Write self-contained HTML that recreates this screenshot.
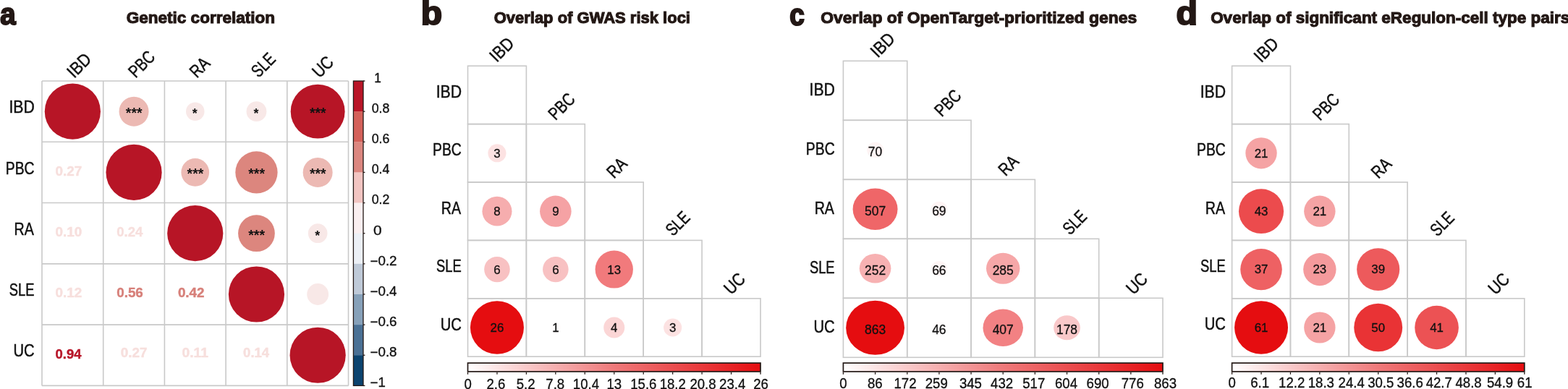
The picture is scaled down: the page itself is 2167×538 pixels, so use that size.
<!DOCTYPE html>
<html><head><meta charset="utf-8"><title>Figure</title>
<style>
html,body{margin:0;padding:0;background:#fff;}
body{width:2167px;height:538px;overflow:hidden;}
svg{display:block;font-family:"Liberation Sans",Arial,sans-serif;}
</style></head><body>
<svg width="2167" height="538" viewBox="0 0 2167 538">
<rect width="2167" height="538" fill="#fff"/>
<text x="0.27" y="33.69" font-size="41.62" textLength="21.38" lengthAdjust="spacingAndGlyphs" font-weight="bold" fill="#231815" stroke="#231815" stroke-width="2.2">a</text>
<text x="581.73" y="33.86" font-size="45.48" textLength="29.34" lengthAdjust="spacingAndGlyphs" font-weight="bold" fill="#231815" stroke="#231815" stroke-width="2.2">b</text>
<text x="1091.16" y="34.49" font-size="41.98" textLength="20.52" lengthAdjust="spacingAndGlyphs" font-weight="bold" fill="#231815" stroke="#231815" stroke-width="2.2">c</text>
<text x="1625.42" y="33.76" font-size="45.34" textLength="29.46" lengthAdjust="spacingAndGlyphs" font-weight="bold" fill="#231815" stroke="#231815" stroke-width="2.2">d</text>
<text x="174.63" y="32.35" font-size="22.67" textLength="205.52" lengthAdjust="spacingAndGlyphs" font-weight="bold" fill="#231815" stroke="#231815" stroke-width="1.1">Genetic correlation</text>
<text x="682.65" y="32.35" font-size="22.53" textLength="271.35" lengthAdjust="spacingAndGlyphs" font-weight="bold" fill="#231815" stroke="#231815" stroke-width="1.1">Overlap of GWAS risk loci</text>
<text x="1134.32" y="32.35" font-size="22.53" textLength="436.87" lengthAdjust="spacingAndGlyphs" font-weight="bold" fill="#231815" stroke="#231815" stroke-width="1.1">Overlap of OpenTarget-prioritized genes</text>
<text x="1673.13" y="32.25" font-size="22.53" textLength="496.25" lengthAdjust="spacingAndGlyphs" font-weight="bold" fill="#231815" stroke="#231815" stroke-width="1.1">Overlap of significant eRegulon-cell type pairs</text>
<line x1="58" y1="112" x2="481.5" y2="112" stroke="#c9c9c9" stroke-width="1.6"/>
<line x1="58" y1="112" x2="58" y2="533.4" stroke="#c9c9c9" stroke-width="1.6"/>
<line x1="58" y1="196.28" x2="481.5" y2="196.28" stroke="#c9c9c9" stroke-width="1.6"/>
<line x1="142.7" y1="112" x2="142.7" y2="533.4" stroke="#c9c9c9" stroke-width="1.6"/>
<line x1="58" y1="280.56" x2="481.5" y2="280.56" stroke="#c9c9c9" stroke-width="1.6"/>
<line x1="227.4" y1="112" x2="227.4" y2="533.4" stroke="#c9c9c9" stroke-width="1.6"/>
<line x1="58" y1="364.84" x2="481.5" y2="364.84" stroke="#c9c9c9" stroke-width="1.6"/>
<line x1="312.1" y1="112" x2="312.1" y2="533.4" stroke="#c9c9c9" stroke-width="1.6"/>
<line x1="58" y1="449.12" x2="481.5" y2="449.12" stroke="#c9c9c9" stroke-width="1.6"/>
<line x1="396.8" y1="112" x2="396.8" y2="533.4" stroke="#c9c9c9" stroke-width="1.6"/>
<line x1="58" y1="533.4" x2="481.5" y2="533.4" stroke="#c9c9c9" stroke-width="1.6"/>
<line x1="481.5" y1="112" x2="481.5" y2="533.4" stroke="#c9c9c9" stroke-width="1.6"/>
<circle cx="100.35" cy="154.14" r="38.6" fill="#b71526"/>
<circle cx="185.05" cy="154.14" r="20.5" fill="#ecb9b3"/>
<text x="173.89" y="163.05" font-size="19.35" textLength="22.68" lengthAdjust="spacingAndGlyphs" font-weight="bold" fill="#111">***</text>
<circle cx="269.75" cy="154.14" r="12.75" fill="#f8e8e7"/>
<text x="265.8" y="162.98" font-size="18.81" textLength="6.97" lengthAdjust="spacingAndGlyphs" font-weight="bold" fill="#111">*</text>
<circle cx="354.45" cy="154.14" r="13.9" fill="#f8e8e7"/>
<text x="350.5" y="162.98" font-size="18.81" textLength="6.97" lengthAdjust="spacingAndGlyphs" font-weight="bold" fill="#111">*</text>
<circle cx="439.15" cy="154.14" r="37.46" fill="#b71526"/>
<text x="427.99" y="163.05" font-size="19.35" textLength="22.68" lengthAdjust="spacingAndGlyphs" font-weight="bold" fill="#111">***</text>
<text x="76.5" y="242.9" font-size="17.66" textLength="36.78" lengthAdjust="spacingAndGlyphs" font-weight="bold" fill="#f7dfdd" stroke="#f7dfdd" stroke-width="0.4">0.27</text>
<circle cx="185.05" cy="238.42" r="38.6" fill="#b71526"/>
<circle cx="269.75" cy="238.42" r="19.37" fill="#ecb9b3"/>
<text x="258.59" y="247.33" font-size="19.35" textLength="22.68" lengthAdjust="spacingAndGlyphs" font-weight="bold" fill="#111">***</text>
<circle cx="354.45" cy="238.42" r="29.15" fill="#dc867e"/>
<text x="343.29" y="247.33" font-size="19.35" textLength="22.68" lengthAdjust="spacingAndGlyphs" font-weight="bold" fill="#111">***</text>
<circle cx="439.15" cy="238.42" r="20.5" fill="#ecb9b3"/>
<text x="427.99" y="247.33" font-size="19.35" textLength="22.68" lengthAdjust="spacingAndGlyphs" font-weight="bold" fill="#111">***</text>
<text x="76.5" y="327.18" font-size="17.66" textLength="36.72" lengthAdjust="spacingAndGlyphs" font-weight="bold" fill="#f7dfdd" stroke="#f7dfdd" stroke-width="0.4">0.10</text>
<text x="161.22" y="327.18" font-size="17.66" textLength="36.03" lengthAdjust="spacingAndGlyphs" font-weight="bold" fill="#f7dfdd" stroke="#f7dfdd" stroke-width="0.4">0.24</text>
<circle cx="269.75" cy="322.7" r="38.6" fill="#b71526"/>
<circle cx="354.45" cy="322.7" r="25.36" fill="#dc867e"/>
<text x="343.29" y="331.61" font-size="19.35" textLength="22.68" lengthAdjust="spacingAndGlyphs" font-weight="bold" fill="#111">***</text>
<circle cx="439.15" cy="322.7" r="13.34" fill="#f8e8e7"/>
<text x="435.2" y="331.54" font-size="18.81" textLength="6.97" lengthAdjust="spacingAndGlyphs" font-weight="bold" fill="#111">*</text>
<text x="76.5" y="411.46" font-size="17.66" textLength="36.7" lengthAdjust="spacingAndGlyphs" font-weight="bold" fill="#f7dfdd" stroke="#f7dfdd" stroke-width="0.4">0.12</text>
<text x="161.21" y="411.46" font-size="17.66" textLength="36.62" lengthAdjust="spacingAndGlyphs" font-weight="bold" fill="#d7807a" stroke="#d7807a" stroke-width="0.4">0.56</text>
<text x="245.9" y="411.46" font-size="17.66" textLength="36.7" lengthAdjust="spacingAndGlyphs" font-weight="bold" fill="#d7807a" stroke="#d7807a" stroke-width="0.4">0.42</text>
<circle cx="354.45" cy="406.98" r="38.6" fill="#b71526"/>
<circle cx="439.15" cy="406.98" r="14.96" fill="#f8e8e7"/>
<text x="76.52" y="495.74" font-size="17.66" textLength="36.03" lengthAdjust="spacingAndGlyphs" font-weight="bold" fill="#b8172a" stroke="#b8172a" stroke-width="0.4">0.94</text>
<text x="166.7" y="494.04" font-size="17.66" textLength="36.78" lengthAdjust="spacingAndGlyphs" font-weight="bold" fill="#f7dfdd" stroke="#f7dfdd" stroke-width="0.4">0.27</text>
<text x="251.41" y="494.04" font-size="17.66" textLength="36.46" lengthAdjust="spacingAndGlyphs" font-weight="bold" fill="#f7dfdd" stroke="#f7dfdd" stroke-width="0.4">0.11</text>
<text x="336.12" y="494.04" font-size="17.66" textLength="36.03" lengthAdjust="spacingAndGlyphs" font-weight="bold" fill="#f7dfdd" stroke="#f7dfdd" stroke-width="0.4">0.14</text>
<circle cx="439.15" cy="491.26" r="38.6" fill="#b71526"/>
<text x="12.39" y="156.29" font-size="23.84" textLength="35.37" lengthAdjust="spacingAndGlyphs" fill="#111" stroke="#111" stroke-width="0.5">IBD</text>
<text x="101.86" y="107.6" font-size="24.56" textLength="35.92" lengthAdjust="spacingAndGlyphs" fill="#111" stroke="#111" stroke-width="0.5" transform="rotate(-45 103.85 107.6)">IBD</text>
<text x="7.77" y="240.57" font-size="23.84" textLength="39.72" lengthAdjust="spacingAndGlyphs" fill="#111" stroke="#111" stroke-width="0.5">PBC</text>
<text x="186.94" y="107.6" font-size="24.56" textLength="40.25" lengthAdjust="spacingAndGlyphs" fill="#111" stroke="#111" stroke-width="0.5" transform="rotate(-45 188.55 107.6)">PBC</text>
<text x="19.54" y="324.85" font-size="23.84" textLength="27.25" lengthAdjust="spacingAndGlyphs" fill="#111" stroke="#111" stroke-width="0.5">RA</text>
<text x="271.61" y="107.6" font-size="24.56" textLength="27.78" lengthAdjust="spacingAndGlyphs" fill="#111" stroke="#111" stroke-width="0.5" transform="rotate(-45 273.25 107.6)">RA</text>
<text x="12.82" y="409.13" font-size="23.84" textLength="34.72" lengthAdjust="spacingAndGlyphs" fill="#111" stroke="#111" stroke-width="0.5">SLE</text>
<text x="357.1" y="107.6" font-size="24.56" textLength="35.25" lengthAdjust="spacingAndGlyphs" fill="#111" stroke="#111" stroke-width="0.5" transform="rotate(-45 357.95 107.6)">SLE</text>
<text x="18.39" y="493.41" font-size="23.84" textLength="29.12" lengthAdjust="spacingAndGlyphs" fill="#111" stroke="#111" stroke-width="0.5">UC</text>
<text x="441.07" y="107.6" font-size="24.56" textLength="29.67" lengthAdjust="spacingAndGlyphs" fill="#111" stroke="#111" stroke-width="0.5" transform="rotate(-45 442.65 107.6)">UC</text>
<rect x="488.4" y="112" width="13.6" height="42.44" fill="#b91628"/>
<rect x="488.4" y="154.14" width="13.6" height="42.44" fill="#d4615a"/>
<rect x="488.4" y="196.28" width="13.6" height="42.44" fill="#dc8780"/>
<rect x="488.4" y="238.42" width="13.6" height="42.44" fill="#f2c5c2"/>
<rect x="488.4" y="280.56" width="13.6" height="42.44" fill="#faeff0"/>
<rect x="488.4" y="322.7" width="13.6" height="42.44" fill="#ecf0f6"/>
<rect x="488.4" y="364.84" width="13.6" height="42.44" fill="#bfcad8"/>
<rect x="488.4" y="406.98" width="13.6" height="42.44" fill="#87a1b9"/>
<rect x="488.4" y="449.12" width="13.6" height="42.44" fill="#4b7195"/>
<rect x="488.4" y="491.26" width="13.6" height="42.44" fill="#0c446f"/>
<rect x="488.4" y="112" width="13.6" height="421.4" fill="none" stroke="#231815" stroke-width="1.3"/>
<line x1="502" y1="112" x2="504.4" y2="112" stroke="#231815" stroke-width="1.3"/>
<text x="517.26" y="113.83" font-size="17.51" textLength="9.57" lengthAdjust="spacingAndGlyphs" fill="#111" stroke="#111" stroke-width="0.35">1</text>
<line x1="502" y1="154.14" x2="504.4" y2="154.14" stroke="#231815" stroke-width="1.3"/>
<text x="513.68" y="155.96" font-size="17.51" textLength="24.68" lengthAdjust="spacingAndGlyphs" fill="#111" stroke="#111" stroke-width="0.35">0.8</text>
<line x1="502" y1="196.28" x2="504.4" y2="196.28" stroke="#231815" stroke-width="1.3"/>
<text x="513.68" y="198.1" font-size="17.51" textLength="24.68" lengthAdjust="spacingAndGlyphs" fill="#111" stroke="#111" stroke-width="0.35">0.6</text>
<line x1="502" y1="238.42" x2="504.4" y2="238.42" stroke="#231815" stroke-width="1.3"/>
<text x="513.68" y="240.25" font-size="17.51" textLength="24.69" lengthAdjust="spacingAndGlyphs" fill="#111" stroke="#111" stroke-width="0.35">0.4</text>
<line x1="502" y1="280.56" x2="504.4" y2="280.56" stroke="#231815" stroke-width="1.3"/>
<text x="513.68" y="282.38" font-size="17.51" textLength="24.68" lengthAdjust="spacingAndGlyphs" fill="#111" stroke="#111" stroke-width="0.35">0.2</text>
<line x1="502" y1="322.7" x2="504.4" y2="322.7" stroke="#231815" stroke-width="1.3"/>
<text x="516.06" y="324.52" font-size="17.51" textLength="11.62" lengthAdjust="spacingAndGlyphs" fill="#111" stroke="#111" stroke-width="0.35">0</text>
<line x1="502" y1="364.84" x2="504.4" y2="364.84" stroke="#231815" stroke-width="1.3"/>
<text x="511.55" y="366.67" font-size="17.51" textLength="36.99" lengthAdjust="spacingAndGlyphs" fill="#111" stroke="#111" stroke-width="0.35">−0.2</text>
<line x1="502" y1="406.98" x2="504.4" y2="406.98" stroke="#231815" stroke-width="1.3"/>
<text x="511.55" y="408.81" font-size="17.51" textLength="37" lengthAdjust="spacingAndGlyphs" fill="#111" stroke="#111" stroke-width="0.35">−0.4</text>
<line x1="502" y1="449.12" x2="504.4" y2="449.12" stroke="#231815" stroke-width="1.3"/>
<text x="511.55" y="450.94" font-size="17.51" textLength="36.99" lengthAdjust="spacingAndGlyphs" fill="#111" stroke="#111" stroke-width="0.35">−0.6</text>
<line x1="502" y1="491.26" x2="504.4" y2="491.26" stroke="#231815" stroke-width="1.3"/>
<text x="511.55" y="493.08" font-size="17.51" textLength="36.99" lengthAdjust="spacingAndGlyphs" fill="#111" stroke="#111" stroke-width="0.35">−0.8</text>
<line x1="502" y1="533.4" x2="504.4" y2="533.4" stroke="#231815" stroke-width="1.3"/>
<text x="511.56" y="535.23" font-size="17.51" textLength="21.19" lengthAdjust="spacingAndGlyphs" fill="#111" stroke="#111" stroke-width="0.35">−1</text>
<rect x="646.5" y="91.2" width="80.9" height="80.4" fill="none" stroke="#c9c9c9" stroke-width="1.6"/>
<rect x="646.5" y="171.6" width="80.9" height="80.4" fill="none" stroke="#c9c9c9" stroke-width="1.6"/>
<rect x="727.4" y="171.6" width="80.9" height="80.4" fill="none" stroke="#c9c9c9" stroke-width="1.6"/>
<rect x="646.5" y="252" width="80.9" height="80.4" fill="none" stroke="#c9c9c9" stroke-width="1.6"/>
<rect x="727.4" y="252" width="80.9" height="80.4" fill="none" stroke="#c9c9c9" stroke-width="1.6"/>
<rect x="808.3" y="252" width="80.9" height="80.4" fill="none" stroke="#c9c9c9" stroke-width="1.6"/>
<rect x="646.5" y="332.4" width="80.9" height="80.4" fill="none" stroke="#c9c9c9" stroke-width="1.6"/>
<rect x="727.4" y="332.4" width="80.9" height="80.4" fill="none" stroke="#c9c9c9" stroke-width="1.6"/>
<rect x="808.3" y="332.4" width="80.9" height="80.4" fill="none" stroke="#c9c9c9" stroke-width="1.6"/>
<rect x="889.2" y="332.4" width="80.9" height="80.4" fill="none" stroke="#c9c9c9" stroke-width="1.6"/>
<rect x="646.5" y="412.8" width="80.9" height="80.4" fill="none" stroke="#c9c9c9" stroke-width="1.6"/>
<rect x="727.4" y="412.8" width="80.9" height="80.4" fill="none" stroke="#c9c9c9" stroke-width="1.6"/>
<rect x="808.3" y="412.8" width="80.9" height="80.4" fill="none" stroke="#c9c9c9" stroke-width="1.6"/>
<rect x="889.2" y="412.8" width="80.9" height="80.4" fill="none" stroke="#c9c9c9" stroke-width="1.6"/>
<rect x="970.1" y="412.8" width="80.9" height="80.4" fill="none" stroke="#c9c9c9" stroke-width="1.6"/>
<ellipse cx="686.95" cy="211.8" rx="12.57" ry="12.49" fill="#fce2e2"/>
<text x="686.95" y="218" font-size="16.86" text-anchor="middle" fill="#111" stroke="#111" stroke-width="0.3">3</text>
<ellipse cx="686.95" cy="292.2" rx="20.53" ry="20.4" fill="#f6adae"/>
<text x="686.95" y="298.4" font-size="16.86" text-anchor="middle" fill="#111" stroke="#111" stroke-width="0.3">8</text>
<ellipse cx="767.85" cy="292.2" rx="21.78" ry="21.64" fill="#f5a2a4"/>
<text x="767.85" y="298.4" font-size="16.86" text-anchor="middle" fill="#111" stroke="#111" stroke-width="0.3">9</text>
<ellipse cx="686.95" cy="372.6" rx="17.78" ry="17.67" fill="#f8c1c2"/>
<text x="686.95" y="378.8" font-size="16.86" text-anchor="middle" fill="#111" stroke="#111" stroke-width="0.3">6</text>
<ellipse cx="767.85" cy="372.6" rx="17.78" ry="17.67" fill="#f8c1c2"/>
<text x="767.85" y="378.8" font-size="16.86" text-anchor="middle" fill="#111" stroke="#111" stroke-width="0.3">6</text>
<ellipse cx="848.75" cy="372.6" rx="26.17" ry="26.01" fill="#f17a7c"/>
<text x="848.75" y="378.8" font-size="16.86" text-anchor="middle" fill="#111" stroke="#111" stroke-width="0.3">13</text>
<ellipse cx="686.95" cy="453" rx="37.01" ry="36.78" fill="#e50d10"/>
<text x="686.95" y="459.2" font-size="16.86" text-anchor="middle" fill="#111" stroke="#111" stroke-width="0.3">26</text>
<ellipse cx="767.85" cy="453" rx="7.26" ry="7.21" fill="#fffdfd"/>
<text x="767.85" y="459.2" font-size="16.86" text-anchor="middle" fill="#111" stroke="#111" stroke-width="0.3">1</text>
<ellipse cx="848.75" cy="453" rx="14.52" ry="14.43" fill="#fbd6d6"/>
<text x="848.75" y="459.2" font-size="16.86" text-anchor="middle" fill="#111" stroke="#111" stroke-width="0.3">4</text>
<ellipse cx="929.65" cy="453" rx="12.57" ry="12.49" fill="#fce2e2"/>
<text x="929.65" y="459.2" font-size="16.86" text-anchor="middle" fill="#111" stroke="#111" stroke-width="0.3">3</text>
<text x="602.69" y="135.05" font-size="23.84" textLength="35.37" lengthAdjust="spacingAndGlyphs" fill="#111" stroke="#111" stroke-width="0.5">IBD</text>
<text x="685.96" y="85.7" font-size="24.56" textLength="35.92" lengthAdjust="spacingAndGlyphs" fill="#111" stroke="#111" stroke-width="0.5" transform="rotate(-45 687.95 85.7)">IBD</text>
<text x="598.07" y="215.45" font-size="23.84" textLength="39.72" lengthAdjust="spacingAndGlyphs" fill="#111" stroke="#111" stroke-width="0.5">PBC</text>
<text x="767.24" y="166.1" font-size="24.56" textLength="40.25" lengthAdjust="spacingAndGlyphs" fill="#111" stroke="#111" stroke-width="0.5" transform="rotate(-45 768.85 166.1)">PBC</text>
<text x="609.84" y="295.85" font-size="23.84" textLength="27.25" lengthAdjust="spacingAndGlyphs" fill="#111" stroke="#111" stroke-width="0.5">RA</text>
<text x="848.11" y="246.5" font-size="24.56" textLength="27.78" lengthAdjust="spacingAndGlyphs" fill="#111" stroke="#111" stroke-width="0.5" transform="rotate(-45 849.75 246.5)">RA</text>
<text x="603.12" y="376.25" font-size="23.84" textLength="34.72" lengthAdjust="spacingAndGlyphs" fill="#111" stroke="#111" stroke-width="0.5">SLE</text>
<text x="929.8" y="326.9" font-size="24.56" textLength="35.25" lengthAdjust="spacingAndGlyphs" fill="#111" stroke="#111" stroke-width="0.5" transform="rotate(-45 930.65 326.9)">SLE</text>
<text x="608.69" y="456.65" font-size="23.84" textLength="29.12" lengthAdjust="spacingAndGlyphs" fill="#111" stroke="#111" stroke-width="0.5">UC</text>
<text x="1009.97" y="407.3" font-size="24.56" textLength="29.67" lengthAdjust="spacingAndGlyphs" fill="#111" stroke="#111" stroke-width="0.5" transform="rotate(-45 1011.55 407.3)">UC</text>
<defs><linearGradient id="g646" x1="0" x2="1" y1="0" y2="0"><stop offset="0" stop-color="#ffffff"/><stop offset="0.5" stop-color="#ef797a"/><stop offset="1" stop-color="#e50d10"/></linearGradient></defs>
<rect x="646.5" y="502.05" width="404.5" height="11.9" fill="url(#g646)" stroke="#231815" stroke-width="1.7"/>
<line x1="646.5" y1="514.8" x2="646.5" y2="517.8" stroke="#231815" stroke-width="1.3"/>
<text x="646.6" y="537.8" font-size="20.9" text-anchor="middle" textLength="10.35" lengthAdjust="spacingAndGlyphs" fill="#111" stroke="#111" stroke-width="0.35">0</text>
<line x1="686.95" y1="514.8" x2="686.95" y2="517.8" stroke="#231815" stroke-width="1.3"/>
<text x="685.45" y="537.8" font-size="20.9" text-anchor="middle" textLength="25.86" lengthAdjust="spacingAndGlyphs" fill="#111" stroke="#111" stroke-width="0.35">2.6</text>
<line x1="727.4" y1="514.8" x2="727.4" y2="517.8" stroke="#231815" stroke-width="1.3"/>
<text x="726.7" y="537.8" font-size="20.9" text-anchor="middle" textLength="25.86" lengthAdjust="spacingAndGlyphs" fill="#111" stroke="#111" stroke-width="0.35">5.2</text>
<line x1="767.85" y1="514.8" x2="767.85" y2="517.8" stroke="#231815" stroke-width="1.3"/>
<text x="767.25" y="537.8" font-size="20.9" text-anchor="middle" textLength="25.86" lengthAdjust="spacingAndGlyphs" fill="#111" stroke="#111" stroke-width="0.35">7.8</text>
<line x1="808.3" y1="514.8" x2="808.3" y2="517.8" stroke="#231815" stroke-width="1.3"/>
<text x="809.9" y="537.8" font-size="20.9" text-anchor="middle" textLength="36.21" lengthAdjust="spacingAndGlyphs" fill="#111" stroke="#111" stroke-width="0.35">10.4</text>
<line x1="848.75" y1="514.8" x2="848.75" y2="517.8" stroke="#231815" stroke-width="1.3"/>
<text x="848.85" y="537.8" font-size="20.9" text-anchor="middle" textLength="20.69" lengthAdjust="spacingAndGlyphs" fill="#111" stroke="#111" stroke-width="0.35">13</text>
<line x1="889.2" y1="514.8" x2="889.2" y2="517.8" stroke="#231815" stroke-width="1.3"/>
<text x="889.3" y="537.8" font-size="20.9" text-anchor="middle" textLength="36.21" lengthAdjust="spacingAndGlyphs" fill="#111" stroke="#111" stroke-width="0.35">15.6</text>
<line x1="929.65" y1="514.8" x2="929.65" y2="517.8" stroke="#231815" stroke-width="1.3"/>
<text x="929.75" y="537.8" font-size="20.9" text-anchor="middle" textLength="36.21" lengthAdjust="spacingAndGlyphs" fill="#111" stroke="#111" stroke-width="0.35">18.2</text>
<line x1="970.1" y1="514.8" x2="970.1" y2="517.8" stroke="#231815" stroke-width="1.3"/>
<text x="971.5" y="537.8" font-size="20.9" text-anchor="middle" textLength="36.21" lengthAdjust="spacingAndGlyphs" fill="#111" stroke="#111" stroke-width="0.35">20.8</text>
<line x1="1010.55" y1="514.8" x2="1010.55" y2="517.8" stroke="#231815" stroke-width="1.3"/>
<text x="1012.15" y="537.8" font-size="20.9" text-anchor="middle" textLength="36.21" lengthAdjust="spacingAndGlyphs" fill="#111" stroke="#111" stroke-width="0.35">23.4</text>
<line x1="1051" y1="514.8" x2="1051" y2="517.8" stroke="#231815" stroke-width="1.3"/>
<text x="1051.6" y="537.8" font-size="20.9" text-anchor="middle" textLength="20.69" lengthAdjust="spacingAndGlyphs" fill="#111" stroke="#111" stroke-width="0.35">26</text>
<rect x="1165.4" y="84.3" width="88.32" height="82" fill="none" stroke="#c9c9c9" stroke-width="1.6"/>
<rect x="1165.4" y="166.3" width="88.32" height="82" fill="none" stroke="#c9c9c9" stroke-width="1.6"/>
<rect x="1253.72" y="166.3" width="88.32" height="82" fill="none" stroke="#c9c9c9" stroke-width="1.6"/>
<rect x="1165.4" y="248.3" width="88.32" height="82" fill="none" stroke="#c9c9c9" stroke-width="1.6"/>
<rect x="1253.72" y="248.3" width="88.32" height="82" fill="none" stroke="#c9c9c9" stroke-width="1.6"/>
<rect x="1342.04" y="248.3" width="88.32" height="82" fill="none" stroke="#c9c9c9" stroke-width="1.6"/>
<rect x="1165.4" y="330.3" width="88.32" height="82" fill="none" stroke="#c9c9c9" stroke-width="1.6"/>
<rect x="1253.72" y="330.3" width="88.32" height="82" fill="none" stroke="#c9c9c9" stroke-width="1.6"/>
<rect x="1342.04" y="330.3" width="88.32" height="82" fill="none" stroke="#c9c9c9" stroke-width="1.6"/>
<rect x="1430.36" y="330.3" width="88.32" height="82" fill="none" stroke="#c9c9c9" stroke-width="1.6"/>
<rect x="1165.4" y="412.3" width="88.32" height="82" fill="none" stroke="#c9c9c9" stroke-width="1.6"/>
<rect x="1253.72" y="412.3" width="88.32" height="82" fill="none" stroke="#c9c9c9" stroke-width="1.6"/>
<rect x="1342.04" y="412.3" width="88.32" height="82" fill="none" stroke="#c9c9c9" stroke-width="1.6"/>
<rect x="1430.36" y="412.3" width="88.32" height="82" fill="none" stroke="#c9c9c9" stroke-width="1.6"/>
<rect x="1518.68" y="412.3" width="88.32" height="82" fill="none" stroke="#c9c9c9" stroke-width="1.6"/>
<ellipse cx="1209.56" cy="207.3" rx="11.51" ry="10.68" fill="#fef4f4"/>
<text x="1209.56" y="216.1" font-size="17.44" text-anchor="middle" fill="#111" stroke="#111" stroke-width="0.3">70</text>
<ellipse cx="1209.56" cy="289.3" rx="30.97" ry="28.75" fill="#ef6668"/>
<text x="1209.56" y="298.1" font-size="17.44" text-anchor="middle" fill="#111" stroke="#111" stroke-width="0.3">507</text>
<ellipse cx="1297.88" cy="289.3" rx="11.43" ry="10.61" fill="#fef4f4"/>
<text x="1297.88" y="298.1" font-size="17.44" text-anchor="middle" fill="#111" stroke="#111" stroke-width="0.3">69</text>
<ellipse cx="1209.56" cy="371.3" rx="21.83" ry="20.27" fill="#f7b1b2"/>
<text x="1209.56" y="380.1" font-size="17.44" text-anchor="middle" fill="#111" stroke="#111" stroke-width="0.3">252</text>
<ellipse cx="1297.88" cy="371.3" rx="11.17" ry="10.37" fill="#fef5f5"/>
<text x="1297.88" y="380.1" font-size="17.44" text-anchor="middle" fill="#111" stroke="#111" stroke-width="0.3">66</text>
<ellipse cx="1386.2" cy="371.3" rx="23.22" ry="21.56" fill="#f6a7a8"/>
<text x="1386.2" y="380.1" font-size="17.44" text-anchor="middle" fill="#111" stroke="#111" stroke-width="0.3">285</text>
<ellipse cx="1209.56" cy="453.3" rx="40.41" ry="37.52" fill="#e50d10"/>
<text x="1209.56" y="462.1" font-size="17.44" text-anchor="middle" fill="#111" stroke="#111" stroke-width="0.3">863</text>
<ellipse cx="1297.88" cy="453.3" rx="9.33" ry="8.66" fill="#fffcfc"/>
<text x="1297.88" y="462.1" font-size="17.44" text-anchor="middle" fill="#111" stroke="#111" stroke-width="0.3">46</text>
<ellipse cx="1386.2" cy="453.3" rx="27.75" ry="25.76" fill="#f28183"/>
<text x="1386.2" y="462.1" font-size="17.44" text-anchor="middle" fill="#111" stroke="#111" stroke-width="0.3">407</text>
<ellipse cx="1474.52" cy="453.3" rx="18.35" ry="17.04" fill="#f9c8c9"/>
<text x="1474.52" y="462.1" font-size="17.44" text-anchor="middle" fill="#111" stroke="#111" stroke-width="0.3">178</text>
<text x="1118.49" y="132.35" font-size="23.84" textLength="35.37" lengthAdjust="spacingAndGlyphs" fill="#111" stroke="#111" stroke-width="0.5">IBD</text>
<text x="1212.37" y="79.3" font-size="24.56" textLength="35.92" lengthAdjust="spacingAndGlyphs" fill="#111" stroke="#111" stroke-width="0.5" transform="rotate(-45 1214.36 79.3)">IBD</text>
<text x="1113.87" y="214.35" font-size="23.84" textLength="39.72" lengthAdjust="spacingAndGlyphs" fill="#111" stroke="#111" stroke-width="0.5">PBC</text>
<text x="1301.07" y="161.3" font-size="24.56" textLength="40.25" lengthAdjust="spacingAndGlyphs" fill="#111" stroke="#111" stroke-width="0.5" transform="rotate(-45 1302.68 161.3)">PBC</text>
<text x="1125.64" y="296.35" font-size="23.84" textLength="27.25" lengthAdjust="spacingAndGlyphs" fill="#111" stroke="#111" stroke-width="0.5">RA</text>
<text x="1389.36" y="243.3" font-size="24.56" textLength="27.78" lengthAdjust="spacingAndGlyphs" fill="#111" stroke="#111" stroke-width="0.5" transform="rotate(-45 1391 243.3)">RA</text>
<text x="1118.92" y="378.35" font-size="23.84" textLength="34.72" lengthAdjust="spacingAndGlyphs" fill="#111" stroke="#111" stroke-width="0.5">SLE</text>
<text x="1478.47" y="325.3" font-size="24.56" textLength="35.25" lengthAdjust="spacingAndGlyphs" fill="#111" stroke="#111" stroke-width="0.5" transform="rotate(-45 1479.32 325.3)">SLE</text>
<text x="1124.49" y="460.35" font-size="23.84" textLength="29.12" lengthAdjust="spacingAndGlyphs" fill="#111" stroke="#111" stroke-width="0.5">UC</text>
<text x="1566.06" y="407.3" font-size="24.56" textLength="29.67" lengthAdjust="spacingAndGlyphs" fill="#111" stroke="#111" stroke-width="0.5" transform="rotate(-45 1567.64 407.3)">UC</text>
<defs><linearGradient id="g1165" x1="0" x2="1" y1="0" y2="0"><stop offset="0" stop-color="#ffffff"/><stop offset="0.5" stop-color="#ef797a"/><stop offset="1" stop-color="#e50d10"/></linearGradient></defs>
<rect x="1165.4" y="502.05" width="441.6" height="11.9" fill="url(#g1165)" stroke="#231815" stroke-width="1.7"/>
<line x1="1165.4" y1="514.8" x2="1165.4" y2="517.8" stroke="#231815" stroke-width="1.3"/>
<text x="1165.3" y="537.21" font-size="19.92" text-anchor="middle" textLength="10.35" lengthAdjust="spacingAndGlyphs" fill="#111" stroke="#111" stroke-width="0.35">0</text>
<line x1="1209.56" y1="514.8" x2="1209.56" y2="517.8" stroke="#231815" stroke-width="1.3"/>
<text x="1209.36" y="537.21" font-size="19.92" text-anchor="middle" textLength="20.69" lengthAdjust="spacingAndGlyphs" fill="#111" stroke="#111" stroke-width="0.35">86</text>
<line x1="1253.72" y1="514.8" x2="1253.72" y2="517.8" stroke="#231815" stroke-width="1.3"/>
<text x="1251.02" y="537.21" font-size="19.92" text-anchor="middle" textLength="31.04" lengthAdjust="spacingAndGlyphs" fill="#111" stroke="#111" stroke-width="0.35">172</text>
<line x1="1297.88" y1="514.8" x2="1297.88" y2="517.8" stroke="#231815" stroke-width="1.3"/>
<text x="1294.28" y="537.21" font-size="19.92" text-anchor="middle" textLength="31.04" lengthAdjust="spacingAndGlyphs" fill="#111" stroke="#111" stroke-width="0.35">259</text>
<line x1="1342.04" y1="514.8" x2="1342.04" y2="517.8" stroke="#231815" stroke-width="1.3"/>
<text x="1341.44" y="537.21" font-size="19.92" text-anchor="middle" textLength="31.04" lengthAdjust="spacingAndGlyphs" fill="#111" stroke="#111" stroke-width="0.35">345</text>
<line x1="1386.2" y1="514.8" x2="1386.2" y2="517.8" stroke="#231815" stroke-width="1.3"/>
<text x="1384.6" y="537.21" font-size="19.92" text-anchor="middle" textLength="31.04" lengthAdjust="spacingAndGlyphs" fill="#111" stroke="#111" stroke-width="0.35">432</text>
<line x1="1430.36" y1="514.8" x2="1430.36" y2="517.8" stroke="#231815" stroke-width="1.3"/>
<text x="1428.76" y="537.21" font-size="19.92" text-anchor="middle" textLength="31.04" lengthAdjust="spacingAndGlyphs" fill="#111" stroke="#111" stroke-width="0.35">517</text>
<line x1="1474.52" y1="514.8" x2="1474.52" y2="517.8" stroke="#231815" stroke-width="1.3"/>
<text x="1473.52" y="537.21" font-size="19.92" text-anchor="middle" textLength="31.04" lengthAdjust="spacingAndGlyphs" fill="#111" stroke="#111" stroke-width="0.35">604</text>
<line x1="1518.68" y1="514.8" x2="1518.68" y2="517.8" stroke="#231815" stroke-width="1.3"/>
<text x="1517.08" y="537.21" font-size="19.92" text-anchor="middle" textLength="31.04" lengthAdjust="spacingAndGlyphs" fill="#111" stroke="#111" stroke-width="0.35">690</text>
<line x1="1562.84" y1="514.8" x2="1562.84" y2="517.8" stroke="#231815" stroke-width="1.3"/>
<text x="1565.24" y="537.21" font-size="19.92" text-anchor="middle" textLength="31.04" lengthAdjust="spacingAndGlyphs" fill="#111" stroke="#111" stroke-width="0.35">776</text>
<line x1="1607" y1="514.8" x2="1607" y2="517.8" stroke="#231815" stroke-width="1.3"/>
<text x="1610.5" y="537.21" font-size="19.92" text-anchor="middle" textLength="31.04" lengthAdjust="spacingAndGlyphs" fill="#111" stroke="#111" stroke-width="0.35">863</text>
<rect x="1702.6" y="91.2" width="80.84" height="80.4" fill="none" stroke="#c9c9c9" stroke-width="1.6"/>
<rect x="1702.6" y="171.6" width="80.84" height="80.4" fill="none" stroke="#c9c9c9" stroke-width="1.6"/>
<rect x="1783.44" y="171.6" width="80.84" height="80.4" fill="none" stroke="#c9c9c9" stroke-width="1.6"/>
<rect x="1702.6" y="252" width="80.84" height="80.4" fill="none" stroke="#c9c9c9" stroke-width="1.6"/>
<rect x="1783.44" y="252" width="80.84" height="80.4" fill="none" stroke="#c9c9c9" stroke-width="1.6"/>
<rect x="1864.28" y="252" width="80.84" height="80.4" fill="none" stroke="#c9c9c9" stroke-width="1.6"/>
<rect x="1702.6" y="332.4" width="80.84" height="80.4" fill="none" stroke="#c9c9c9" stroke-width="1.6"/>
<rect x="1783.44" y="332.4" width="80.84" height="80.4" fill="none" stroke="#c9c9c9" stroke-width="1.6"/>
<rect x="1864.28" y="332.4" width="80.84" height="80.4" fill="none" stroke="#c9c9c9" stroke-width="1.6"/>
<rect x="1945.12" y="332.4" width="80.84" height="80.4" fill="none" stroke="#c9c9c9" stroke-width="1.6"/>
<rect x="1702.6" y="412.8" width="80.84" height="80.4" fill="none" stroke="#c9c9c9" stroke-width="1.6"/>
<rect x="1783.44" y="412.8" width="80.84" height="80.4" fill="none" stroke="#c9c9c9" stroke-width="1.6"/>
<rect x="1864.28" y="412.8" width="80.84" height="80.4" fill="none" stroke="#c9c9c9" stroke-width="1.6"/>
<rect x="1945.12" y="412.8" width="80.84" height="80.4" fill="none" stroke="#c9c9c9" stroke-width="1.6"/>
<rect x="2025.96" y="412.8" width="80.84" height="80.4" fill="none" stroke="#c9c9c9" stroke-width="1.6"/>
<ellipse cx="1743.02" cy="211.8" rx="21.7" ry="21.58" fill="#f5a3a4"/>
<text x="1743.02" y="217.6" font-size="16.86" text-anchor="middle" fill="#111" stroke="#111" stroke-width="0.3">21</text>
<ellipse cx="1743.02" cy="292.2" rx="31.05" ry="30.88" fill="#ec4b4d"/>
<text x="1743.02" y="298" font-size="16.86" text-anchor="middle" fill="#111" stroke="#111" stroke-width="0.3">43</text>
<ellipse cx="1823.86" cy="292.2" rx="21.7" ry="21.58" fill="#f5a3a4"/>
<text x="1823.86" y="298" font-size="16.86" text-anchor="middle" fill="#111" stroke="#111" stroke-width="0.3">21</text>
<ellipse cx="1743.02" cy="372.6" rx="28.8" ry="28.65" fill="#ee6163"/>
<text x="1743.02" y="378.4" font-size="16.86" text-anchor="middle" fill="#111" stroke="#111" stroke-width="0.3">37</text>
<ellipse cx="1823.86" cy="372.6" rx="22.71" ry="22.59" fill="#f49a9c"/>
<text x="1823.86" y="378.4" font-size="16.86" text-anchor="middle" fill="#111" stroke="#111" stroke-width="0.3">23</text>
<ellipse cx="1904.7" cy="372.6" rx="29.57" ry="29.41" fill="#ed5a5c"/>
<text x="1904.7" y="378.4" font-size="16.86" text-anchor="middle" fill="#111" stroke="#111" stroke-width="0.3">39</text>
<ellipse cx="1743.02" cy="453" rx="36.98" ry="36.78" fill="#e50d10"/>
<text x="1743.02" y="458.8" font-size="16.86" text-anchor="middle" fill="#111" stroke="#111" stroke-width="0.3">61</text>
<ellipse cx="1823.86" cy="453" rx="21.7" ry="21.58" fill="#f5a3a4"/>
<text x="1823.86" y="458.8" font-size="16.86" text-anchor="middle" fill="#111" stroke="#111" stroke-width="0.3">21</text>
<ellipse cx="1904.7" cy="453" rx="33.48" ry="33.3" fill="#e93335"/>
<text x="1904.7" y="458.8" font-size="16.86" text-anchor="middle" fill="#111" stroke="#111" stroke-width="0.3">50</text>
<ellipse cx="1985.54" cy="453" rx="30.32" ry="30.16" fill="#ec5254"/>
<text x="1985.54" y="458.8" font-size="16.86" text-anchor="middle" fill="#111" stroke="#111" stroke-width="0.3">41</text>
<text x="1658.69" y="134.75" font-size="23.84" textLength="35.37" lengthAdjust="spacingAndGlyphs" fill="#111" stroke="#111" stroke-width="0.5">IBD</text>
<text x="1742.53" y="86.1" font-size="24.56" textLength="35.92" lengthAdjust="spacingAndGlyphs" fill="#111" stroke="#111" stroke-width="0.5" transform="rotate(-45 1744.52 86.1)">IBD</text>
<text x="1654.07" y="215.15" font-size="23.84" textLength="39.72" lengthAdjust="spacingAndGlyphs" fill="#111" stroke="#111" stroke-width="0.5">PBC</text>
<text x="1823.75" y="166.5" font-size="24.56" textLength="40.25" lengthAdjust="spacingAndGlyphs" fill="#111" stroke="#111" stroke-width="0.5" transform="rotate(-45 1825.36 166.5)">PBC</text>
<text x="1665.84" y="295.55" font-size="23.84" textLength="27.25" lengthAdjust="spacingAndGlyphs" fill="#111" stroke="#111" stroke-width="0.5">RA</text>
<text x="1904.56" y="246.9" font-size="24.56" textLength="27.78" lengthAdjust="spacingAndGlyphs" fill="#111" stroke="#111" stroke-width="0.5" transform="rotate(-45 1906.2 246.9)">RA</text>
<text x="1659.12" y="375.95" font-size="23.84" textLength="34.72" lengthAdjust="spacingAndGlyphs" fill="#111" stroke="#111" stroke-width="0.5">SLE</text>
<text x="1986.19" y="327.3" font-size="24.56" textLength="35.25" lengthAdjust="spacingAndGlyphs" fill="#111" stroke="#111" stroke-width="0.5" transform="rotate(-45 1987.04 327.3)">SLE</text>
<text x="1664.69" y="456.35" font-size="23.84" textLength="29.12" lengthAdjust="spacingAndGlyphs" fill="#111" stroke="#111" stroke-width="0.5">UC</text>
<text x="2066.3" y="407.7" font-size="24.56" textLength="29.67" lengthAdjust="spacingAndGlyphs" fill="#111" stroke="#111" stroke-width="0.5" transform="rotate(-45 2067.88 407.7)">UC</text>
<defs><linearGradient id="g1702" x1="0" x2="1" y1="0" y2="0"><stop offset="0" stop-color="#ffffff"/><stop offset="0.5" stop-color="#ef797a"/><stop offset="1" stop-color="#e50d10"/></linearGradient></defs>
<rect x="1702.6" y="502.05" width="404.2" height="11.9" fill="url(#g1702)" stroke="#231815" stroke-width="1.7"/>
<line x1="1702.6" y1="514.8" x2="1702.6" y2="517.8" stroke="#231815" stroke-width="1.3"/>
<text x="1702.7" y="535.51" font-size="19.49" text-anchor="middle" textLength="10.35" lengthAdjust="spacingAndGlyphs" fill="#111" stroke="#111" stroke-width="0.35">0</text>
<line x1="1743.02" y1="514.8" x2="1743.02" y2="517.8" stroke="#231815" stroke-width="1.3"/>
<text x="1741.17" y="535.51" font-size="19.49" text-anchor="middle" textLength="25.86" lengthAdjust="spacingAndGlyphs" fill="#111" stroke="#111" stroke-width="0.35">6.1</text>
<line x1="1783.44" y1="514.8" x2="1783.44" y2="517.8" stroke="#231815" stroke-width="1.3"/>
<text x="1785.19" y="535.51" font-size="19.49" text-anchor="middle" textLength="36.21" lengthAdjust="spacingAndGlyphs" fill="#111" stroke="#111" stroke-width="0.35">12.2</text>
<line x1="1823.86" y1="514.8" x2="1823.86" y2="517.8" stroke="#231815" stroke-width="1.3"/>
<text x="1825.86" y="535.51" font-size="19.49" text-anchor="middle" textLength="36.21" lengthAdjust="spacingAndGlyphs" fill="#111" stroke="#111" stroke-width="0.35">18.3</text>
<line x1="1864.28" y1="514.8" x2="1864.28" y2="517.8" stroke="#231815" stroke-width="1.3"/>
<text x="1867.68" y="535.51" font-size="19.49" text-anchor="middle" textLength="36.21" lengthAdjust="spacingAndGlyphs" fill="#111" stroke="#111" stroke-width="0.35">24.4</text>
<line x1="1904.7" y1="514.8" x2="1904.7" y2="517.8" stroke="#231815" stroke-width="1.3"/>
<text x="1908.3" y="535.51" font-size="19.49" text-anchor="middle" textLength="36.21" lengthAdjust="spacingAndGlyphs" fill="#111" stroke="#111" stroke-width="0.35">30.5</text>
<line x1="1945.12" y1="514.8" x2="1945.12" y2="517.8" stroke="#231815" stroke-width="1.3"/>
<text x="1948.72" y="535.51" font-size="19.49" text-anchor="middle" textLength="36.21" lengthAdjust="spacingAndGlyphs" fill="#111" stroke="#111" stroke-width="0.35">36.6</text>
<line x1="1985.54" y1="514.8" x2="1985.54" y2="517.8" stroke="#231815" stroke-width="1.3"/>
<text x="1988.74" y="535.51" font-size="19.49" text-anchor="middle" textLength="36.21" lengthAdjust="spacingAndGlyphs" fill="#111" stroke="#111" stroke-width="0.35">42.7</text>
<line x1="2025.96" y1="514.8" x2="2025.96" y2="517.8" stroke="#231815" stroke-width="1.3"/>
<text x="2029.56" y="535.51" font-size="19.49" text-anchor="middle" textLength="36.21" lengthAdjust="spacingAndGlyphs" fill="#111" stroke="#111" stroke-width="0.35">48.8</text>
<line x1="2066.38" y1="514.8" x2="2066.38" y2="517.8" stroke="#231815" stroke-width="1.3"/>
<text x="2073.08" y="535.51" font-size="19.49" text-anchor="middle" textLength="36.21" lengthAdjust="spacingAndGlyphs" fill="#111" stroke="#111" stroke-width="0.35">54.9</text>
<line x1="2106.8" y1="514.8" x2="2106.8" y2="517.8" stroke="#231815" stroke-width="1.3"/>
<text x="2107.2" y="535.51" font-size="19.49" text-anchor="middle" textLength="20.69" lengthAdjust="spacingAndGlyphs" fill="#111" stroke="#111" stroke-width="0.35">61</text>
</svg>
</body></html>
